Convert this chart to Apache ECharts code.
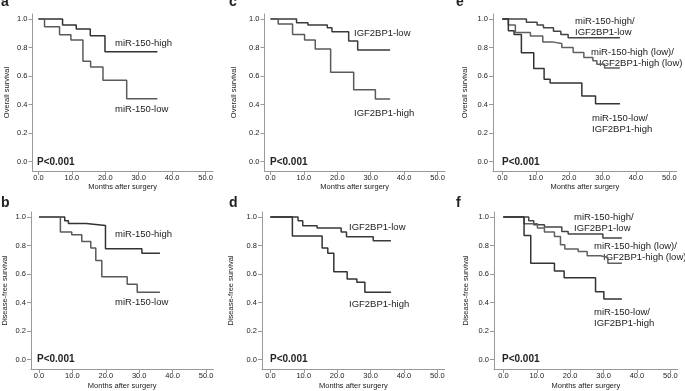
<!DOCTYPE html>
<html>
<head>
<meta charset="utf-8">
<script src="https://cdn.jsdelivr.net/npm/echarts@6/dist/echarts.min.js"></script>
<style>
  html, body { margin: 0; padding: 0; background: #fff; }
  #main { width: 685px; height: 391px; }
</style>
</head>
<body>
<div id="main"></div>
<script>
var chart = echarts.init(document.getElementById('main'));

// tick values
var xTicks = [0, 10, 20, 30, 40, 50];
var yTicks = [0, 0.2, 0.4, 0.6, 0.8, 1.0];

// a: overall survival, miR-150
var osMirHighT = [0, 7.2, 11.3, 15.5, 19.9, 35.6];
var osMirHighS = [1, 0.958, 0.93, 0.883, 0.77, 0.77];
var osMirLowT = [0, 1.8, 6.3, 9.7, 13.3, 15.6, 19.3, 26.4, 35.6];
var osMirLowS = [1, 0.946, 0.89, 0.852, 0.704, 0.664, 0.57, 0.441, 0.441];

// c: overall survival, IGF2BP1
var osIgfLowT = [0, 7.8, 11.2, 17.0, 18.4, 23.4, 26.1, 35.8];
var osIgfLowS = [1, 0.974, 0.958, 0.939, 0.911, 0.845, 0.782, 0.782];
var osIgfHighT = [0, 2.3, 6.6, 10.2, 13.4, 18.0, 24.9, 31.4, 35.8];
var osIgfHighS = [1, 0.965, 0.892, 0.852, 0.789, 0.627, 0.505, 0.439, 0.439];

// e: overall survival, combined
var osComb1T = [0, 7.2, 10.4, 12.3, 15.3, 17.5, 19.7, 35.2];
var osComb1S = [1, 0.977, 0.958, 0.939, 0.915, 0.892, 0.869, 0.869];
var osComb2T = [0, 1.8, 3.9, 8.4, 12.1, 15.3, 17.8, 21.2, 24.4, 27.1, 28.3, 30.6, 35.2];
var osComb2S = [1, 0.958, 0.906, 0.88, 0.838, 0.829, 0.8, 0.765, 0.73, 0.707, 0.683, 0.657, 0.657];
var osComb3T = [0, 1.8, 3.5, 5.7, 9.4, 12.5, 14.3, 23.8, 27.9, 35.2];
var osComb3S = [1, 0.918, 0.892, 0.763, 0.653, 0.577, 0.552, 0.46, 0.406, 0.406];

// b: disease-free survival, miR-150
var dfsMirHighT = [0, 7.7, 8.8, 14.1, 19.9, 30.8, 36.2];
var dfsMirHighS = [1, 0.974, 0.955, 0.941, 0.777, 0.746, 0.746];
var dfsMirLowT = [0, 6.4, 9.8, 12.8, 15.5, 17.0, 18.8, 26.4, 29.4, 36.2];
var dfsMirLowS = [1, 0.894, 0.876, 0.829, 0.782, 0.695, 0.582, 0.528, 0.472, 0.472];

// d: disease-free survival, IGF2BP1
var dfsIgfLowT = [0, 8.3, 9.7, 14.0, 21.2, 22.8, 30.8, 36.1];
var dfsIgfLowS = [1, 0.974, 0.939, 0.923, 0.894, 0.861, 0.833, 0.833];
var dfsIgfHighT = [0, 6.6, 15.5, 17.2, 19.0, 23.0, 25.9, 28.3, 36.1];
var dfsIgfHighS = [1, 0.866, 0.782, 0.746, 0.617, 0.566, 0.542, 0.472, 0.472];

// f: disease-free survival, combined
var dfsComb1T = [0, 7.6, 9.1, 12.3, 17.5, 19.4, 29.8, 35.5];
var dfsComb1S = [1, 0.974, 0.946, 0.93, 0.899, 0.88, 0.852, 0.852];
var dfsComb2T = [0, 6.2, 10.2, 12.3, 15.3, 17.1, 18.4, 22.4, 25.1, 29.1, 31.3, 35.5];
var dfsComb2S = [1, 0.953, 0.923, 0.894, 0.864, 0.805, 0.775, 0.758, 0.728, 0.716, 0.676, 0.676];
var dfsComb3T = [0, 6.2, 8.2, 15.3, 18.2, 27.6, 30.1, 35.5];
var dfsComb3S = [1, 0.871, 0.676, 0.622, 0.575, 0.477, 0.425, 0.425];

var FONT = 'Liberation Sans, Arial, sans-serif';
var PX = 3.34; // px per month
var XMAX = 52.2;

// panel layout
var panels = [
  { left: 32.5, top: 14, xmin: -1.8, yname: 'Overall survival', gap: 22, xgap: 12,
    curves: [[osMirHighT, osMirHighS, '#333'], [osMirLowT, osMirLowS, '#5a5a5a']] },
  { left: 264.5, top: 14, xmin: -1.8, yname: 'Overall survival', gap: 27, xgap: 12,
    curves: [[osIgfLowT, osIgfLowS, '#3a3a3a'], [osIgfHighT, osIgfHighS, '#5a5a5a']] },
  { left: 493, top: 14, xmin: -2.8, yname: 'Overall survival', gap: 24, xgap: 12,
    curves: [[osComb1T, osComb1S, '#444'], [osComb2T, osComb2S, '#606060'], [osComb3T, osComb3S, '#333']] },
  { left: 31, top: 212, xmin: -2.4, yname: 'Disease-free survival', gap: 22, xgap: 13,
    curves: [[dfsMirHighT, dfsMirHighS, '#333'], [dfsMirLowT, dfsMirLowS, '#5a5a5a']] },
  { left: 262, top: 212, xmin: -2.5, yname: 'Disease-free survival', gap: 27, xgap: 13,
    curves: [[dfsIgfLowT, dfsIgfLowS, '#3a3a3a'], [dfsIgfHighT, dfsIgfHighS, '#333']] },
  { left: 494, top: 212, xmin: -2.8, yname: 'Disease-free survival', gap: 24, xgap: 13,
    curves: [[dfsComb1T, dfsComb1S, '#444'], [dfsComb2T, dfsComb2S, '#606060'], [dfsComb3T, dfsComb3S, '#333']] }
];

var grids = [], xAxes = [], yAxes = [], series = [];
panels.forEach(function(p, i) {
  grids.push({ left: p.left, top: p.top, width: (XMAX - p.xmin) * PX, height: 157 });
  xAxes.push({
    gridIndex: i, type: 'value', min: p.xmin, max: XMAX,
    name: 'Months after surgery', nameLocation: 'middle', nameGap: p.xgap,
    nameTextStyle: { fontFamily: FONT, fontSize: 7.5, color: '#222' },
    axisLine: { onZero: false, lineStyle: { color: '#999', width: 1 } },
    axisTick: { customValues: xTicks, length: 4, lineStyle: { color: '#999' } },
    axisLabel: { customValues: xTicks, margin: 3, fontFamily: FONT, fontSize: 7.5, color: '#222',
      formatter: function(v) { return v.toFixed(1); } },
    splitLine: { show: false }
  });
  yAxes.push({
    gridIndex: i, type: 'value', min: -0.065, max: 1.035,
    name: p.yname, nameLocation: 'middle', nameGap: p.gap, nameRotate: 90,
    nameTextStyle: { fontFamily: FONT, fontSize: 7.5, color: '#222' },
    axisLine: { onZero: false, lineStyle: { color: '#999', width: 1 } },
    axisTick: { customValues: yTicks, length: 4, lineStyle: { color: '#999' } },
    axisLabel: { customValues: yTicks, margin: 5, fontFamily: FONT, fontSize: 7.5, color: '#222',
      formatter: function(v) { return v.toFixed(1); } },
    splitLine: { show: false }
  });
  p.curves.forEach(function(c) {
    series.push({
      type: 'line', xAxisIndex: i, yAxisIndex: i, step: 'end',
      symbol: 'none', silent: true, animation: false,
      lineStyle: { color: c[2], width: 1.5 },
      data: c[0].map(function(t, k) { return [t, c[1][k]]; })
    });
  });
});

function txt(x, y, s, size, bold) {
  return { type: 'text', x: x, y: y, silent: true,
    style: { text: s, fontFamily: FONT, fontSize: size, fontWeight: bold ? 'bold' : 'normal',
      fill: '#222', verticalAlign: 'middle', align: 'left' } };
}

var labels = [
  txt(1, 2.5, 'a', 14, true), txt(229, 2.5, 'c', 14, true), txt(456, 2.5, 'e', 14, true),
  txt(1, 203.5, 'b', 14, true), txt(229, 203.5, 'd', 14, true), txt(456, 203.5, 'f', 14, true),
  txt(37, 162, 'P<0.001', 10, true), txt(270, 162, 'P<0.001', 10, true), txt(502, 162, 'P<0.001', 10, true),
  txt(37, 359, 'P<0.001', 10, true), txt(270, 359, 'P<0.001', 10, true), txt(502, 359, 'P<0.001', 10, true),
  txt(115, 43, 'miR-150-high', 9.5), txt(115, 109, 'miR-150-low', 9.5),
  txt(354, 33, 'IGF2BP1-low', 9.5), txt(354, 113, 'IGF2BP1-high', 9.5),
  txt(575, 21, 'miR-150-high/', 9.5), txt(575, 32, 'IGF2BP1-low', 9.5),
  txt(591, 52, 'miR-150-high (low)/', 9.5), txt(599, 63, 'IGF2BP1-high (low)', 9.5),
  txt(592, 118, 'miR-150-low/', 9.5), txt(592, 129, 'IGF2BP1-high', 9.5),
  txt(115, 234, 'miR-150-high', 9.5), txt(115, 302, 'miR-150-low', 9.5),
  txt(349, 227, 'IGF2BP1-low', 9.5), txt(349, 304, 'IGF2BP1-high', 9.5),
  txt(574, 217, 'miR-150-high/', 9.5), txt(574, 228, 'IGF2BP1-low', 9.5),
  txt(594, 246, 'miR-150-high (low)/', 9.5), txt(603, 257, 'IGF2BP1-high (low)', 9.5),
  txt(594, 312, 'miR-150-low/', 9.5), txt(594, 323, 'IGF2BP1-high', 9.5)
];

var option = {
  backgroundColor: '#fff',
  animation: false,
  grid: grids,
  xAxis: xAxes,
  yAxis: yAxes,
  series: series,
  graphic: labels
};
chart.setOption(option);
</script>
</body>
</html>
